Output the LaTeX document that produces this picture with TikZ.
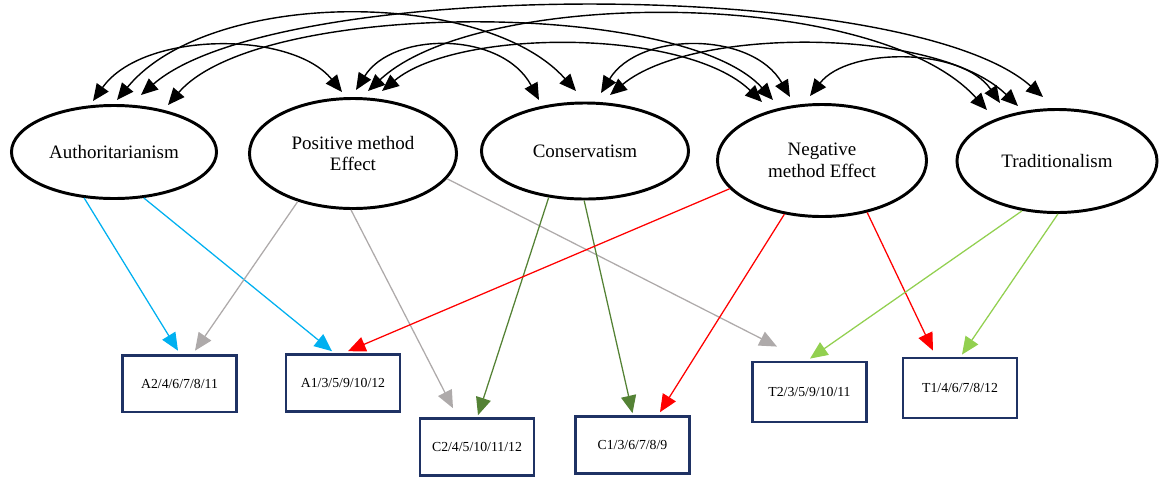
\documentclass[tikz,border=0pt]{standalone}
\usepackage{fontspec}
\setmainfont{Liberation Serif}
\usetikzlibrary{arrows.meta,shapes.geometric,calc}
\definecolor{lblue}{HTML}{00B0F0}
\definecolor{lgray}{HTML}{AEAAAA}
\definecolor{dgreen}{HTML}{548235}
\definecolor{lgreen}{HTML}{92D050}
\definecolor{navy}{HTML}{1F3264}
\begin{document}
\begin{tikzpicture}[x=0.025cm,y=-0.025cm,
  latent/.style={ellipse,draw=black,line width=2.1pt,inner sep=0pt,align=center,font=\fontsize{13.5}{15.5}\selectfont},
  obs/.style={rectangle,draw=navy,line width=2pt,inner sep=0pt,minimum width=2.85cm,minimum height=1.42cm,font=\fontsize{9.8}{11}\selectfont},
  cov/.style={line width=1pt,{Triangle[length=0.42cm,width=0.36cm]}-{Triangle[length=0.42cm,width=0.36cm]}},
  load/.style={line width=0.9pt,-{Triangle[length=0.44cm,width=0.38cm]}}
]
\useasboundingbox (0,0) rectangle (1160,476);
\clip (0,0) rectangle (1160,476);

% latent variables
\node[latent,minimum width=5.125cm,minimum height=2.325cm] (A) at (114,152) {Authoritarianism};
\node[latent,minimum width=5.175cm,minimum height=2.75cm] (P) at (353,153.5) {Positive method\\Effect};
\node[latent,minimum width=5.175cm,minimum height=2.4cm] (C) at (585,151) {Conservatism};
\node[latent,minimum width=5.225cm,minimum height=2.8cm] (N) at (822,160.5) {Negative\\method Effect};
\node[latent,minimum width=5.0cm,minimum height=2.575cm] (T) at (1057,161) {Traditionalism};

% observed indicators
\node[obs] (bA2) at (179.5,383.5) {A2/4/6/7/8/11};
\node[obs] (bA1) at (343,383) {A1/3/5/9/10/12};
\node[obs] (bC2) at (477,447) {C2/4/5/10/11/12};
\node[obs] (bC1) at (632.5,445) {C1/3/6/7/8/9};
\node[obs,minimum height=1.5cm] (bT2) at (809.5,392) {T2/3/5/9/10/11};
\node[obs,minimum height=1.5cm] (bT1) at (960,388) {T1/4/6/7/8/12};

% covariance end points
\coordinate (a1) at ($(A)+(-21,-51)$);
\coordinate (a2) at ($(A)+(3,-52)$);
\coordinate (a3) at ($(A)+(27,-57)$);
\coordinate (a4) at ($(A)+(54,-47)$);
\coordinate (p1) at ($(P)+(-11,-61.5)$);
\coordinate (p2) at ($(P)+(3,-63.5)$);
\coordinate (p3) at ($(P)+(15,-62.5)$);
\coordinate (p4) at ($(P)+(29,-62.5)$);
\coordinate (c1) at ($(C)+(-46,-51)$);
\coordinate (c2) at ($(C)+(-9,-60)$);
\coordinate (c3) at ($(C)+(16,-58)$);
\coordinate (c4) at ($(C)+(25,-56)$);
\coordinate (n1) at ($(N)+(-60,-58.5)$);
\coordinate (n2) at ($(N)+(-49,-60.5)$);
\coordinate (n3) at ($(N)+(-32,-63.5)$);
\coordinate (n4) at ($(N)+(-12,-64.5)$);
\coordinate (t1) at ($(T)+(-70,-51)$);
\coordinate (t2) at ($(T)+(-57,-58)$);
\coordinate (t3) at ($(T)+(-39,-55)$);
\coordinate (t4) at ($(T)+(-14,-64)$);

% covariances
\draw[cov] (a1) .. controls +(50,-70.5) and +(-50,-61.5) .. (p1);
\draw[cov] (a2) .. controls +(92,-112) and +(-92,-103) .. (c2);
\draw[cov] (a4) .. controls +(91,-106) and +(-91,-101) .. (n2);
\draw[cov] (a3) .. controls +(135,-118) and +(-135,-120) .. (t4);
\draw[cov] (p2) .. controls +(37,-59) and +(-37,-69) .. (c1);
\draw[cov] (p4) .. controls +(76,-63) and +(-76,-74) .. (n1);
\draw[cov] (p3) .. controls +(111,-104) and +(-111,-123) .. (t1);
\draw[cov] (c3) .. controls +(38,-62) and +(-38,-66) .. (n3);
\draw[cov] (c4) .. controls +(82,-68.5) and +(-82,-79.5) .. (t3);
\draw[cov] (n4) .. controls +(38,-49) and +(-38,-56) .. (t2);

% loadings
\draw[load,lblue] (A.237) -- ($(bA2.north)+(-1.5,-3)$);
\draw[load,lblue] (A.303) -- ($(bA1.north)+(-11,-2)$);
\draw[load,lgray] (P.221) -- ($(bA2.north)+(15.5,-3)$);
\draw[load,lgray] (P.268) -- ($(bC2.north)+(-24,-9)$);
\draw[load,lgray] (P.345) -- ($(bT2.north)+(-32.5,-14)$);
\draw[load,dgreen] (C.232) -- ($(bC2.north)+(1,-2)$);
\draw[load,dgreen] (C.269) -- ($(bC1.north)+(0,-2)$);
\draw[load,red] (N.197) -- ($(bA1.north)+(5,-2)$);
\draw[load,red] (N.235) -- ($(bC1.north)+(27.5,-3)$);
\draw[load,red] (N.311) -- ($(bT1.north)+(-27,-6)$);
\draw[load,lgreen] (T.235) -- ($(bT2.north)+(0.5,-2)$);
\draw[load,lgreen] (T.271) -- ($(bT1.north)+(2,-2)$);
\end{tikzpicture}
\end{document}
